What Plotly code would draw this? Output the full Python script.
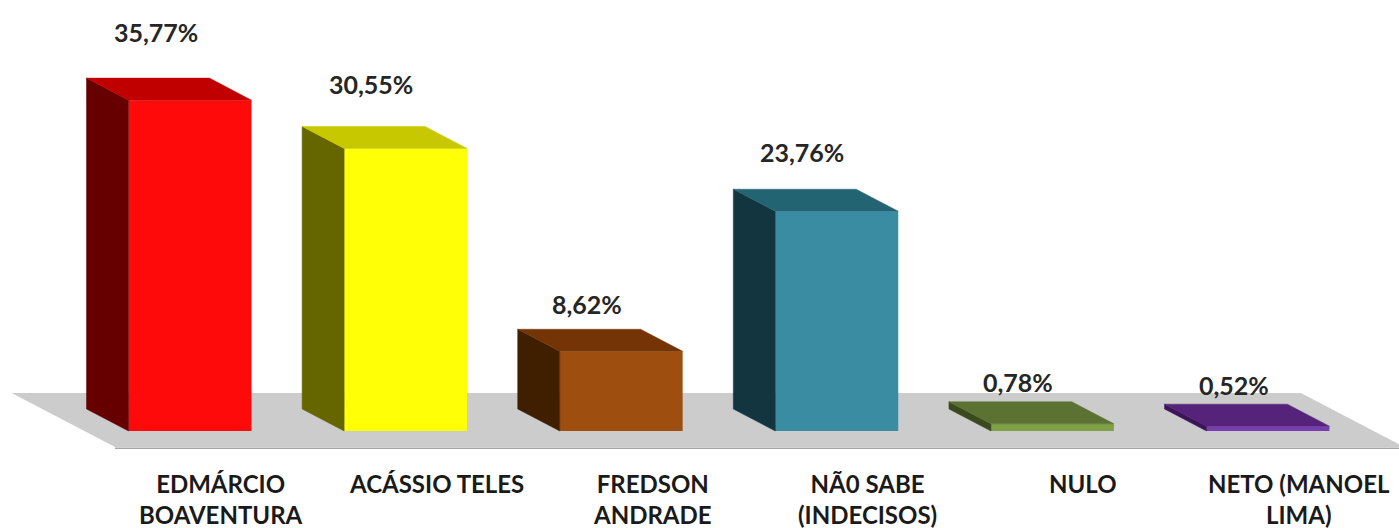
import plotly.graph_objects as go

categories = ["EDMÁRCIO<br>BOAVENTURA", "ACÁSSIO TELES", "FREDSON<br>ANDRADE",
              "NÃ0 SABE<br>(INDECISOS)", "NULO", "NETO (MANOEL<br>LIMA)"]
values = [35.77, 30.55, 8.62, 23.76, 0.78, 0.52]
value_labels = ["35,77%", "30,55%", "8,62%", "23,76%", "0,78%", "0,52%"]
front_colors = ["#FF0A0A", "#FFFF05", "#9E4F10", "#3A8CA2", "#7FA045", "#7A3DB0"]
top_colors = ["#C00000", "#C8C800", "#753405", "#236473", "#5B7232", "#55247A"]
side_colors = ["#660000", "#666600", "#3F1F00", "#133540", "#3A4A1E", "#3A1558"]

# geometry (in axis units)
HALF = 0.285           # half width of bar front face
DX, DY = -0.195, 2.38  # depth offset of the bar back face
FLOOR_FRONT, FLOOR_BACK, FLOOR_SIDE = -0.73, 1.73, 0.49

W, H = 1399, 528
X0_PX, SPACING_PX, Y0_PX, PX_PER_UNIT = 190, 215.6, 431, 9.25
xr = [-X0_PX / SPACING_PX, (W - X0_PX) / SPACING_PX]
yr = [-(H - Y0_PX) / PX_PER_UNIT, Y0_PX / PX_PER_UNIT]

n = len(values)
xs = list(range(n))
fig = go.Figure()

# floor (drawn below all traces)
lx, rx = -FLOOR_SIDE, (n - 1) + FLOOR_SIDE
fx = [lx + DX * FLOOR_FRONT, rx + DX * FLOOR_FRONT, rx + DX * FLOOR_BACK, lx + DX * FLOOR_BACK]
fy = [DY * FLOOR_FRONT, DY * FLOOR_FRONT, DY * FLOOR_BACK, DY * FLOOR_BACK]
path = "M " + " L ".join(f"{a},{b}" for a, b in zip(fx, fy)) + " Z"
fig.add_shape(type="path", path=path, xref="x", yref="y", fillcolor="#CCCCCC",
              line=dict(width=0), layer="below")
fig.add_shape(type="line", xref="x", yref="y", x0=fx[0], x1=fx[1],
              y0=fy[0] - 0.12, y1=fy[0] - 0.12, line=dict(color="#A6A6A6", width=1.5),
              layer="below")

for i, v in enumerate(values):
    l, r = i - HALF, i + HALF
    # side face
    fig.add_trace(go.Scatter(x=[l, l, l + DX, l + DX, l], y=[0, v, v + DY, DY, 0],
                             fill="toself", fillcolor=side_colors[i], mode="lines",
                             line=dict(width=0.5, color=side_colors[i]), hoverinfo="skip",
                             showlegend=False))
    # top face
    fig.add_trace(go.Scatter(x=[l, r, r + DX, l + DX, l], y=[v, v, v + DY, v + DY, v],
                             fill="toself", fillcolor=top_colors[i], mode="lines",
                             line=dict(width=0.5, color=top_colors[i]), hoverinfo="skip",
                             showlegend=False))

# front faces
fig.add_trace(go.Bar(x=xs, y=values, base=0, width=2 * HALF,
                     marker=dict(color=front_colors, line=dict(width=0)),
                     hoverinfo="skip", showlegend=False))

for i, v in enumerate(values):
    fig.add_annotation(x=i - 0.16, y=v + DY, yshift=19 + 0.75 * v,
                       text=value_labels[i], showarrow=False, yanchor="middle",
                       font=dict(family="Lato", size=25, color="#262626", weight="bold"))
    fig.add_annotation(x=i + 0.143, y=-(467 - Y0_PX) / PX_PER_UNIT, text=categories[i],
                       showarrow=False, yanchor="top", xanchor="center", align="center",
                       font=dict(family="Lato", size=24, color="#1a1a1a", weight="bold"))

fig.update_layout(
    width=W, height=H, margin=dict(l=0, r=0, t=0, b=0),
    paper_bgcolor="white", plot_bgcolor="white", barmode="overlay",
    xaxis=dict(range=xr, visible=False, fixedrange=True),
    yaxis=dict(range=yr, visible=False, fixedrange=True),
)
fig.write_html("out.html", config={"displayModeBar": False},
               post_script="document.body.style.margin='0';")
